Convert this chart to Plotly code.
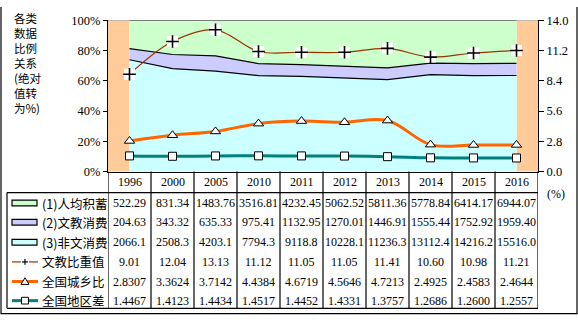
import plotly.graph_objects as go

# ---- data ----
years = ["1996", "2000", "2005", "2010", "2011", "2012", "2013", "2014", "2015", "2016"]
savings = [522.29, 831.34, 1483.76, 3516.81, 4232.45, 5062.52, 5811.36, 5778.84, 6414.17, 6944.07]
culture = [204.63, 343.32, 635.33, 975.41, 1132.95, 1270.01, 1446.91, 1555.44, 1752.92, 1959.40]
nonculture = [2066.1, 2508.3, 4203.1, 7794.3, 9118.8, 10228.1, 11236.3, 13112.4, 14216.2, 15516.0]
culture_share = [9.01, 12.04, 13.13, 11.12, 11.05, 11.05, 11.41, 10.60, 10.98, 11.21]
urban_rural = [2.8307, 3.3624, 3.7142, 4.4384, 4.6719, 4.5646, 4.7213, 2.4925, 2.4583, 2.4644]
regional_gap = [1.4467, 1.4123, 1.4434, 1.4517, 1.4452, 1.4331, 1.3757, 1.2686, 1.2600, 1.2557]

row_names = ["(1)人均积蓄", "(2)文教消费", "(3)非文消费", "文教比重值", "全国城乡比", "全国地区差"]
right_ticks = [0.0, 2.8, 5.6, 8.4, 11.2, 14.0]
title_lines = ["各类", "数据", "比例", "关系", "(绝对", "值转", "为%)"]

W, H = 578, 322
SERIF = "Liberation Serif"
CJK = "Noto Sans CJK SC"

GREEN, LAVENDER, CYAN, PEACH = "#CCFFCC", "#CCCCFF", "#CCFFFF", "#FFCC99"
BROWN, ORANGE, TEAL = "#993300", "#FF6600", "#008080"


def fx(x):
    return x / W


def fy(y):
    return 1 - y / H


fig = go.Figure()

# stacked 100% areas (bottom first)
for name, vals, col in [(row_names[2], nonculture, CYAN),
                        (row_names[1], culture, LAVENDER),
                        (row_names[0], savings, GREEN)]:
    fig.add_trace(go.Scatter(
        x=years, y=vals, name=name, mode="lines", stackgroup="share",
        groupnorm="percent", fillcolor=col, line=dict(color="black", width=1.2),
        hoverinfo="skip"))

# lines on the secondary axis
fig.add_trace(go.Scatter(
    x=years, y=culture_share, yaxis="y2", mode="lines+markers",
    line=dict(color=BROWN, width=1.2, shape="spline"),
    marker=dict(symbol="square", size=11, color="white"), hoverinfo="skip"))
fig.add_trace(go.Scatter(
    x=years, y=culture_share, yaxis="y2", mode="markers",
    marker=dict(symbol="cross-thin", size=9, line=dict(color="black", width=1.6)),
    hoverinfo="skip"))
fig.add_trace(go.Scatter(
    x=years, y=urban_rural, yaxis="y2", mode="lines+markers",
    line=dict(color=ORANGE, width=3, shape="spline"),
    marker=dict(symbol="triangle-up", size=9, color="white",
                line=dict(color="black", width=1)), hoverinfo="skip"))
fig.add_trace(go.Scatter(
    x=years, y=regional_gap, yaxis="y2", mode="lines+markers",
    line=dict(color=TEAL, width=3, shape="spline"),
    marker=dict(symbol="square", size=8, color="white",
                line=dict(color="black", width=1)), hoverinfo="skip"))

n = len(years)
shapes = []
annotations = []


def text(x, y, s, xref="paper", xanchor="center", yanchor="middle", family=SERIF, size=12):
    annotations.append(dict(x=x, xref=xref, y=y, yref="paper", text=s, showarrow=False,
                            xanchor=xanchor, yanchor=yanchor, align="left",
                            font=dict(family=family, size=size, color="black")))


# side bands in the half-category margins
for x0, x1 in [(-0.5, 0), (n - 1, n - 0.5)]:
    shapes.append(dict(type="rect", xref="x", yref="y", x0=x0, x1=x1, y0=0, y1=100,
                       fillcolor=PEACH, line=dict(width=0), layer="below"))
# plot area top border
shapes.append(dict(type="line", xref="x", yref="y", x0=-0.5, x1=n - 0.5, y0=100, y1=100,
                   line=dict(color="#808080", width=1.2)))

# data table grid
T_TOP, T_HEAD, T_BOT = 172, 194, 315
for k in range(n + 1):
    shapes.append(dict(type="line", xref="x", yref="paper", x0=k - 0.5, x1=k - 0.5,
                       y0=fy(T_TOP), y1=fy(T_BOT), line=dict(color="black", width=1.2)))
shapes.append(dict(type="line", xref="paper", yref="paper", x0=fx(7), x1=fx(538),
                   y0=fy(T_HEAD), y1=fy(T_HEAD), line=dict(color="black", width=1.2)))
shapes.append(dict(type="line", xref="paper", yref="paper", x0=fx(7), x1=fx(538),
                   y0=fy(T_BOT), y1=fy(T_BOT), line=dict(color="black", width=1.2)))
shapes.append(dict(type="line", xref="paper", yref="paper", x0=fx(7), x1=fx(7),
                   y0=fy(T_HEAD), y1=fy(T_BOT), line=dict(color="black", width=1.2)))
# outer chart frame
shapes.append(dict(type="path", xref="paper", yref="paper",
                   path=f"M {fx(1)},{fy(0)} L {fx(1)},{fy(320.5)} L {fx(577)},{fy(320.5)} L {fx(577)},{fy(0)}",
                   line=dict(color="black", width=1.2)))

# year header
for i, yr in enumerate(years):
    text(i, fy(183), yr, xref="x")

rows = [(savings, "{:.2f}"), (culture, "{:.2f}"), (nonculture, "{:.1f}"),
        (culture_share, "{:.2f}"), (urban_rural, "{:.4f}"), (regional_gap, "{:.4f}")]
row_y = [205, 225, 246, 266.5, 287, 307]
for (vals, fmt), ry, label in zip(rows, row_y, row_names):
    for i, v in enumerate(vals):
        text(i, fy(ry), fmt.format(v), xref="x")
    text(fx(40), fy(ry), label, xanchor="left", family=CJK, size=12.5)

# legend keys in the table's first column
for ry, col in zip(row_y[:3], [GREEN, LAVENDER, CYAN]):
    shapes.append(dict(type="rect", xref="paper", yref="paper", x0=fx(12), x1=fx(37),
                       y0=fy(ry - 3), y1=fy(ry + 3), fillcolor=col,
                       line=dict(color="black", width=1.2)))
kx = 25
ry = row_y[3]
shapes.append(dict(type="line", xref="paper", yref="paper", x0=fx(12), x1=fx(38),
                   y0=fy(ry), y1=fy(ry), line=dict(color=BROWN, width=1.2)))
shapes.append(dict(type="rect", xref="paper", yref="paper", x0=fx(kx - 4), x1=fx(kx + 4),
                   y0=fy(ry - 4), y1=fy(ry + 4), fillcolor="white", line=dict(width=0)))
shapes.append(dict(type="line", xref="paper", yref="paper", x0=fx(kx - 3), x1=fx(kx + 3),
                   y0=fy(ry), y1=fy(ry), line=dict(color="black", width=1.2)))
shapes.append(dict(type="line", xref="paper", yref="paper", x0=fx(kx), x1=fx(kx),
                   y0=fy(ry - 3), y1=fy(ry + 3), line=dict(color="black", width=1.2)))
ry = row_y[4]
shapes.append(dict(type="line", xref="paper", yref="paper", x0=fx(12), x1=fx(38),
                   y0=fy(ry), y1=fy(ry), line=dict(color=ORANGE, width=3)))
shapes.append(dict(type="path", xref="paper", yref="paper",
                   path=f"M {fx(kx - 4)},{fy(ry + 3)} L {fx(kx + 4)},{fy(ry + 3)} L {fx(kx)},{fy(ry - 4)} Z",
                   fillcolor="white", line=dict(color="black", width=1)))
ry = row_y[5]
shapes.append(dict(type="line", xref="paper", yref="paper", x0=fx(12), x1=fx(38),
                   y0=fy(ry), y1=fy(ry), line=dict(color=TEAL, width=3)))
shapes.append(dict(type="rect", xref="paper", yref="paper", x0=fx(kx - 3.5), x1=fx(kx + 3.5),
                   y0=fy(ry - 3.5), y1=fy(ry + 3.5), fillcolor="white",
                   line=dict(color="black", width=1)))

# left axis title, stacked vertically
text(fx(12), fy(1), "<br>".join(title_lines), xanchor="left", yanchor="top",
     family=CJK, size=11.5)
# unit of the right axis
text(fx(556), fy(195), "(%)")

fig.update_layout(
    width=W, height=H, margin=dict(l=0, r=0, t=0, b=0),
    paper_bgcolor="white", plot_bgcolor="white", showlegend=False,
    xaxis=dict(domain=[fx(108), fx(538)], type="category", range=[-0.5, n - 0.5],
               showticklabels=False, ticks="", showgrid=False, zeroline=False,
               showline=True, linecolor="black", linewidth=1.2),
    yaxis=dict(domain=[fy(172), fy(14)], range=[0, 100], dtick=20, ticksuffix="%",
               showgrid=False, zeroline=False, showline=True, linecolor="black",
               linewidth=1.2, ticks="outside", ticklen=4, tickcolor="black",
               tickfont=dict(family=SERIF, size=12.5, color="black")),
    yaxis2=dict(overlaying="y", side="right", range=[0, 14], tickvals=right_ticks,
                tickformat=".1f", showgrid=False, zeroline=False, showline=True,
                linecolor="black", linewidth=1.2, ticks="outside", ticklen=5,
                tickcolor="black", tickfont=dict(family=SERIF, size=12.5, color="black")),
    shapes=shapes, annotations=annotations,
)

fig.write_html("out.html")
